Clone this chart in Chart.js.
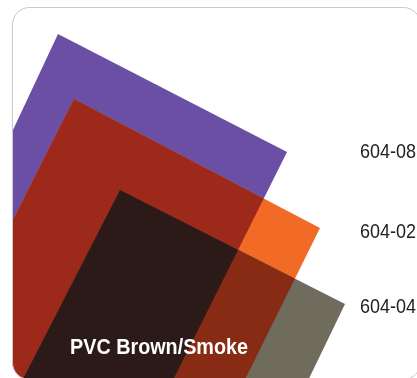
<!DOCTYPE html>
<html>
<head>
<meta charset="utf-8">
<script src="https://cdn.jsdelivr.net/npm/chart.js@4"></script>
<style>
  html, body { margin: 0; padding: 0; background: #fff; }
  canvas { display: block; }
</style>
</head>
<body>
<canvas id="myChart" width="417" height="378"></canvas>
<script>
// Sheet outlines (x right, y down, in picture units)
const sheetNames = ['604-08', '604-02', '604-04'];
const purpleX = [58, 287, 153, -123];
const purpleY = [34, 152, 420, 420];
const orangeX = [74, 320, 225, -88];
const orangeY = [99, 228, 420, 420];
const smokeX = [120, 345, 289, 2];
const smokeY = [190, 304, 420, 420];
const title = 'PVC Brown/Smoke';

// colours of each sheet and of the places where they overlap
const sheetColors = ['#6a4fa5', '#f26b26', '#6f6c5d'];
const purpleOrange = '#9c2919';
const orangeSmoke = '#872b15';
const allThree = '#2c1a18';

document.addEventListener('DOMContentLoaded', () => {

    const toPoints = (xs, ys) => xs.map((x, i) => ({ x: x, y: ys[i] }));

    function roundRect(ctx, x, y, w, h, r) {
        ctx.beginPath();
        ctx.moveTo(x + r, y);
        ctx.lineTo(x + w - r, y);
        ctx.arcTo(x + w, y, x + w, y + r, r);
        ctx.lineTo(x + w, y + h - r);
        ctx.arcTo(x + w, y + h, x + w - r, y + h, r);
        ctx.lineTo(x + r, y + h);
        ctx.arcTo(x, y + h, x, y + h - r, r);
        ctx.lineTo(x, y + r);
        ctx.arcTo(x, y, x + r, y, r);
        ctx.closePath();
    }

    const sheetsPlugin = {
        id: 'sheets',
        beforeDatasetsDraw(chart) {
            const ctx = chart.ctx;
            const sx = chart.scales.x, sy = chart.scales.y;
            const path = (i) => {
                const pts = chart.data.datasets[i].data;
                ctx.beginPath();
                pts.forEach((p, k) => {
                    const px = sx.getPixelForValue(p.x), py = sy.getPixelForValue(p.y);
                    if (k === 0) ctx.moveTo(px, py); else ctx.lineTo(px, py);
                });
                ctx.closePath();
            };
            const fill = (i, color) => { path(i); ctx.fillStyle = color; ctx.fill(); };
            const clip = (i) => { path(i); ctx.clip(); };

            ctx.save();
            roundRect(ctx, 12.5, 7.5, 408, 372, 17);
            ctx.clip();

            fill(0, sheetColors[0]);
            fill(1, sheetColors[1]);
            ctx.save(); clip(0); fill(1, purpleOrange); ctx.restore();
            fill(2, sheetColors[2]);
            ctx.save(); clip(1); fill(2, orangeSmoke); clip(0); fill(2, allThree); ctx.restore();

            // title on the smoke sheet
            ctx.font = 'bold 22px "Liberation Sans Narrow", "Liberation Sans", sans-serif';
            ctx.fillStyle = '#ffffff';
            ctx.textBaseline = 'alphabetic';
            let w = ctx.measureText(title).width;
            ctx.save();
            ctx.translate(70, 354);
            ctx.scale(178 / w, 1);
            ctx.fillText(title, 0, 0);
            ctx.restore();

            ctx.restore();

            // card outline
            roundRect(ctx, 12.5, 7.5, 408, 372, 17);
            ctx.strokeStyle = '#c9c9c9';
            ctx.lineWidth = 1;
            ctx.stroke();

            // sheet codes on the right
            const labelY = [158, 238, 313];
            ctx.font = '21px "Liberation Sans Narrow", "Liberation Sans", sans-serif';
            ctx.fillStyle = '#222222';
            sheetNames.forEach((name, i) => {
                const tw = ctx.measureText(name).width;
                ctx.save();
                ctx.translate(360, labelY[i]);
                ctx.scale(56 / tw, 1);
                ctx.fillText(name, 0, 0);
                ctx.restore();
            });
        }
    };

    const myChart = new Chart(document.getElementById('myChart'), {
        type: 'scatter',
        data: {
            datasets: [
                { label: sheetNames[0], data: toPoints(purpleX, purpleY), pointRadius: 0, showLine: false },
                { label: sheetNames[1], data: toPoints(orangeX, orangeY), pointRadius: 0, showLine: false },
                { label: sheetNames[2], data: toPoints(smokeX, smokeY), pointRadius: 0, showLine: false }
            ]
        },
        options: {
            responsive: false,
            animation: false,
            events: [],
            layout: { padding: 0 },
            plugins: { legend: { display: false }, tooltip: { enabled: false } },
            scales: {
                x: { type: 'linear', min: 0, max: 417, display: false },
                y: { type: 'linear', min: 0, max: 378, reverse: true, display: false }
            }
        },
        plugins: [sheetsPlugin]
    });
});
</script>
</body>
</html>
